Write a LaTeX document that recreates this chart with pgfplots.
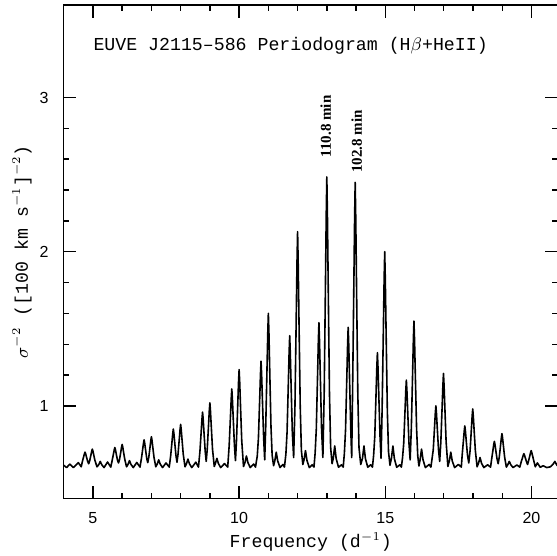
\documentclass[border=0pt]{standalone}
\usepackage{fontspec}
\usepackage{pgfplots}
\pgfplotsset{compat=1.18}
\newfontfamily\monofont{Liberation Mono}
\newfontfamily\sansfont{Liberation Sans}
\newfontfamily\seriffont{Liberation Serif}

\begin{document}
\begin{tikzpicture}
\begin{axis}[name=ax,
  scale only axis, width=246.7pt, height=246.35pt,
  xmin=4, xmax=20.9, ymin=0.4, ymax=3.6,
  xtick={5,10,15,20}, minor x tick num=4,
  ytick={1,2,3}, minor y tick num=4,
  tick align=inside,
  major tick length=6.3pt, minor tick length=2.8pt,
  axis line style={line width=0.7pt},
  tick style={line width=0.7pt, black},
  /pgf/number format/assume math mode=true,
  xticklabel style={font=\sansfont\fontsize{8}{9}\selectfont, yshift=-3.5pt},
  yticklabel style={font=\sansfont\fontsize{8}{9}\selectfont, xshift=-4pt},
]
\addplot[black, line width=0.8pt, line join=round] coordinates {
(4.00,.615)(4.10,.600)(4.21,.622)(4.33,.600)(4.50,.632)(4.60,.605)
(4.64,.640)(4.68,.668)(4.71,.690)(4.73,.700)(4.75,.690)(4.78,.668)(4.82,.640)(4.855,.625)(4.89,.645)(4.93,.680)(4.96,.707)(4.98,.720)(5.00,.707)(5.03,.680)(5.07,.645)(5.14,.605)(5.20,.619)(5.25,.640)(5.30,.619)(5.38,.600)(5.50,.636)(5.61,.603)
(5.66,.648)(5.70,.686)(5.73,.716)(5.75,.730)(5.77,.716)(5.80,.686)(5.84,.648)(5.875,.630)(5.91,.653)(5.95,.698)(5.98,.733)(6.00,.750)(6.02,.733)(6.05,.698)(6.09,.653)(6.15,.605)(6.20,.621)(6.25,.645)(6.30,.621)(6.38,.600)(6.50,.633)(6.61,.603)
(6.66,.660)(6.70,.716)(6.73,.759)(6.75,.780)(6.77,.759)(6.80,.716)(6.84,.660)(6.875,.632)(6.91,.665)(6.95,.728)(6.98,.777)(7.00,.800)(7.02,.777)(7.05,.728)(7.09,.665)(7.15,.605)(7.20,.623)(7.25,.650)(7.30,.623)(7.38,.600)(7.50,.630)(7.61,.603)
(7.66,.678)(7.70,.758)(7.73,.820)(7.75,.850)(7.77,.820)(7.80,.758)(7.84,.678)(7.875,.635)(7.91,.685)(7.95,.776)(7.98,.846)(8.00,.880)(8.02,.846)(8.05,.776)(8.09,.685)(8.15,.605)(8.20,.625)(8.25,.655)(8.30,.625)(8.38,.600)(8.52,.635)(8.61,.603)
(8.66,.705)(8.70,.824)(8.73,.916)(8.75,.960)(8.77,.916)(8.80,.824)(8.84,.705)(8.875,.640)(8.91,.720)(8.95,.860)(8.98,.968)(9.00,1.020)(9.02,.968)(9.05,.860)(9.09,.720)(9.15,.607)(9.19,.627)(9.24,.660)(9.29,.627)(9.37,.600)(9.50,.626)(9.61,.603)
(9.66,.743)(9.70,.914)(9.73,1.046)(9.75,1.110)(9.77,1.046)(9.80,.914)(9.84,.743)(9.875,.645)(9.91,.774)(9.95,.989)(9.98,1.155)(10.00,1.235)(10.02,1.155)(10.05,.989)(10.09,.774)(10.15,.607)(10.20,.633)(10.25,.675)(10.30,.633)(10.38,.600)(10.50,.623)(10.56,.603)
(10.62,.674)(10.66,.788)(10.70,1.022)(10.73,1.203)(10.75,1.290)(10.77,1.203)(10.80,1.022)(10.84,.788)(10.875,.650)(10.91,.865)(10.95,1.208)(10.98,1.473)(11.00,1.600)(11.02,1.473)(11.05,1.208)(11.09,.865)(11.13,.679)(11.18,.612)(11.22,.643)(11.27,.700)(11.32,.643)(11.40,.600)(11.50,.620)(11.55,.603)
(11.60,.687)(11.64,.829)(11.68,1.121)(11.71,1.346)(11.73,1.455)(11.75,1.346)(11.78,1.121)(11.82,.829)(11.865,.665)(11.91,.998)(11.95,1.526)(11.98,1.934)(12.00,2.130)(12.02,1.934)(12.05,1.526)(12.09,.998)(12.13,.711)(12.18,.620)(12.22,.650)(12.27,.710)(12.32,.647)(12.40,.600)(12.50,.618)(12.56,.603)
(12.60,.694)(12.64,.850)(12.68,1.172)(12.71,1.420)(12.73,1.540)(12.75,1.420)(12.78,1.172)(12.82,.850)(12.865,.665)(12.91,1.086)(12.95,1.739)(12.98,2.243)(13.00,2.485)(13.02,2.243)(13.05,1.739)(13.09,1.086)(13.13,.732)(13.18,.625)(13.22,.660)(13.27,.740)(13.32,.658)(13.40,.602)(13.50,.618)(13.56,.603)
(13.60,.691)(13.64,.843)(13.68,1.154)(13.71,1.394)(13.73,1.510)(13.75,1.394)(13.78,1.154)(13.82,.843)(13.85,.665)(13.88,1.078)(13.92,1.718)(13.95,2.212)(13.97,2.450)(13.99,2.212)(14.02,1.718)(14.06,1.078)(14.10,.730)(14.16,.620)(14.22,.660)(14.27,.740)(14.32,.658)(14.40,.602)(14.50,.618)(14.56,.603)
(14.60,.678)(14.64,.801)(14.68,1.055)(14.71,1.251)(14.73,1.345)(14.75,1.251)(14.78,1.055)(14.82,.801)(14.855,.660)(14.89,.965)(14.93,1.448)(14.96,1.821)(14.98,2.000)(15.00,1.821)(15.03,1.448)(15.07,.965)(15.11,.703)(15.16,.615)(15.21,.660)(15.26,.740)(15.31,.658)(15.39,.602)(15.50,.618)(15.55,.603)
(15.59,.664)(15.63,.757)(15.67,.948)(15.70,1.096)(15.72,1.167)(15.74,1.096)(15.77,.948)(15.81,.757)(15.85,.650)(15.89,.853)(15.93,1.178)(15.96,1.429)(15.98,1.550)(16.00,1.429)(16.03,1.178)(16.07,.853)(16.11,.676)(16.15,.610)(16.19,.651)(16.24,.720)(16.29,.651)(16.37,.600)(16.50,.620)(16.56,.603)
(16.64,.715)(16.68,.848)(16.71,.951)(16.73,1.000)(16.75,.951)(16.78,.848)(16.82,.715)(16.86,.640)(16.90,.768)(16.94,.974)(16.97,1.133)(16.99,1.210)(17.01,1.133)(17.04,.974)(17.08,.768)(17.14,.607)(17.19,.643)(17.24,.700)(17.29,.643)(17.37,.600)(17.50,.620)(17.60,.603)
(17.63,.683)(17.67,.770)(17.70,.838)(17.72,.870)(17.74,.838)(17.77,.770)(17.81,.683)(17.855,.630)(17.90,.710)(17.94,.836)(17.97,.933)(17.99,.980)(18.01,.933)(18.04,.836)(18.08,.710)(18.14,.605)(18.19,.629)(18.24,.665)(18.29,.629)(18.37,.600)(18.50,.618)(18.60,.603)
(18.64,.658)(18.68,.710)(18.71,.751)(18.73,.770)(18.75,.751)(18.78,.710)(18.82,.658)(18.86,.625)(18.90,.670)(18.94,.740)(18.97,.794)(18.99,.820)(19.01,.794)(19.04,.740)(19.08,.670)(19.14,.603)(19.19,.619)(19.24,.640)(19.29,.619)(19.37,.600)(19.50,.617)(19.60,.603)
(19.65,.638)(19.69,.662)(19.72,.681)(19.74,.690)(19.76,.681)(19.79,.662)(19.83,.638)(19.865,.620)(19.90,.643)(19.94,.674)(19.97,.698)(19.99,.710)(20.01,.698)(20.04,.674)(20.08,.643)(20.13,.605)(20.20,.630)(20.30,.602)(20.40,.612)(20.52,.600)(20.65,.605)(20.73,.620)(20.80,.640)(20.87,.615)(20.95,.605)
};
\node[rotate=90, anchor=west, inner sep=0, font=\seriffont\bfseries\fontsize{7.5}{9}\selectfont] at (axis cs:12.96,2.61) {110.8 min};
\node[rotate=90, anchor=west, inner sep=0, font=\seriffont\bfseries\fontsize{7.5}{9}\selectfont] at (axis cs:14.02,2.51) {102.8 min};
\end{axis}
\node[anchor=base west, inner sep=0, font=\monofont\fontsize{9.1}{11}\selectfont] at ([xshift=14.7pt,yshift=-22.5pt]ax.north west) {EUVE J2115–586 Periodogram (H$\beta$+HeII)};
\node[anchor=base, inner sep=0, font=\monofont\fontsize{9.1}{11}\selectfont] at ([yshift=-24.65pt]ax.south) {Frequency (d$^{-1}$)};
\node[rotate=90, anchor=south, inner sep=0, font=\monofont\fontsize{9.1}{11}\selectfont] at ([xshift=-15.8pt]ax.west) {$\sigma^{-2}$ ([100 km s$^{-1}$]$^{-2}$)};
\pgfresetboundingbox
\path[use as bounding box] ([xshift=-31.8pt,yshift=-28.65pt]ax.south west) rectangle ([xshift=-0.4pt,yshift=2.5pt]ax.north east);
\end{tikzpicture}
\end{document}
